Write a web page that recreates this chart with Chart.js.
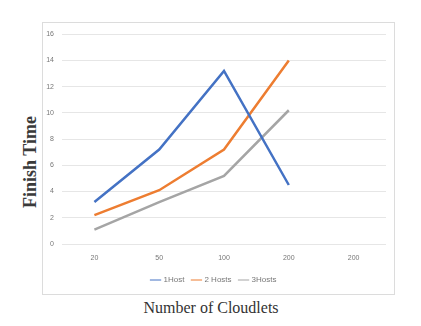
<!DOCTYPE html>
<html lang="en">
  <head>
    <meta charset="utf-8" />
    <title>Finish Time chart</title>
    <style>
      * {
        margin: 0;
        padding: 0;
      }
      body {
        width: 421px;
        height: 326px;
        background: #fff;
        position: relative;
        overflow: hidden;
      }
      .frame {
        position: absolute;
        left: 42px;
        top: 22px;
        width: 353px;
        height: 273px;
        box-sizing: border-box;
        border: 1px solid #dcdcdc;
      }
      #myChart {
        position: absolute;
        left: 42px;
        top: 22px;
      }
      .yTitle {
        position: absolute;
        left: 30px;
        top: 162px;
        transform: translate(-50%, -50%) rotate(-90deg);
        font: bold 18px "Liberation Serif", serif;
        color: #3a3a3a;
        white-space: nowrap;
      }
      .xTitle {
        position: absolute;
        left: 211px;
        top: 308px;
        transform: translate(-50%, -50%);
        font: 16px "Liberation Serif", serif;
        color: #333;
        white-space: nowrap;
      }
    </style>
  </head>
  <body>
    <div class="frame"></div>
    <canvas id="myChart" width="353" height="273"></canvas>
    <div class="yTitle">Finish Time</div>
    <div class="xTitle">Number of Cloudlets</div>
    <script src="https://cdn.jsdelivr.net/npm/chart.js"></script>
    <script>
      // data
      const cloudlets = ['20', '50', '100', '200', '200'];
      const oneHost = [3.2, 7.2, 13.2, 4.5, null];
      const twoHosts = [2.2, 4.1, 7.2, 14, null];
      const threeHosts = [1.1, 3.2, 5.2, 10.2, null];

      const tickFont = { family: 'Liberation Sans', size: 7 };

      const config = {
        type: 'line',
        data: {
          labels: cloudlets,
          datasets: [
            { label: '1Host', data: oneHost, borderColor: '#4472c4', backgroundColor: '#4472c4' },
            { label: '2 Hosts', data: twoHosts, borderColor: '#ed7d31', backgroundColor: '#ed7d31' },
            { label: '3Hosts', data: threeHosts, borderColor: '#a5a5a5', backgroundColor: '#a5a5a5' },
          ],
        },
        options: {
          responsive: false,
          animation: false,
          elements: {
            line: { borderWidth: 2.5, tension: 0 },
            point: { radius: 0 },
          },
          layout: { padding: { top: 10, right: 9, bottom: 1, left: 0 } },
          plugins: {
            tooltip: { enabled: false },
            legend: {
              position: 'bottom',
              labels: {
                usePointStyle: true,
                pointStyle: 'line',
                boxWidth: 20,
                padding: 8,
                color: '#777',
                font: { family: 'Liberation Sans', size: 8 },
              },
            },
          },
          scales: {
            x: {
              offset: true,
              grid: { display: false, drawTicks: false },
              border: { display: false },
              ticks: { color: '#777', font: tickFont, padding: 10 },
              afterFit: (s) => { s.height = 24; },
            },
            y: {
              min: 0,
              max: 16,
              grid: { color: '#e6e6e6', drawTicks: false },
              border: { display: false },
              ticks: { stepSize: 2, color: '#777', font: tickFont, padding: 8 },
              afterFit: (s) => { s.width = 20; },
            },
          },
        },
      };

      const myChart = new Chart(document.getElementById('myChart'), config);
    </script>
  </body>
</html>
